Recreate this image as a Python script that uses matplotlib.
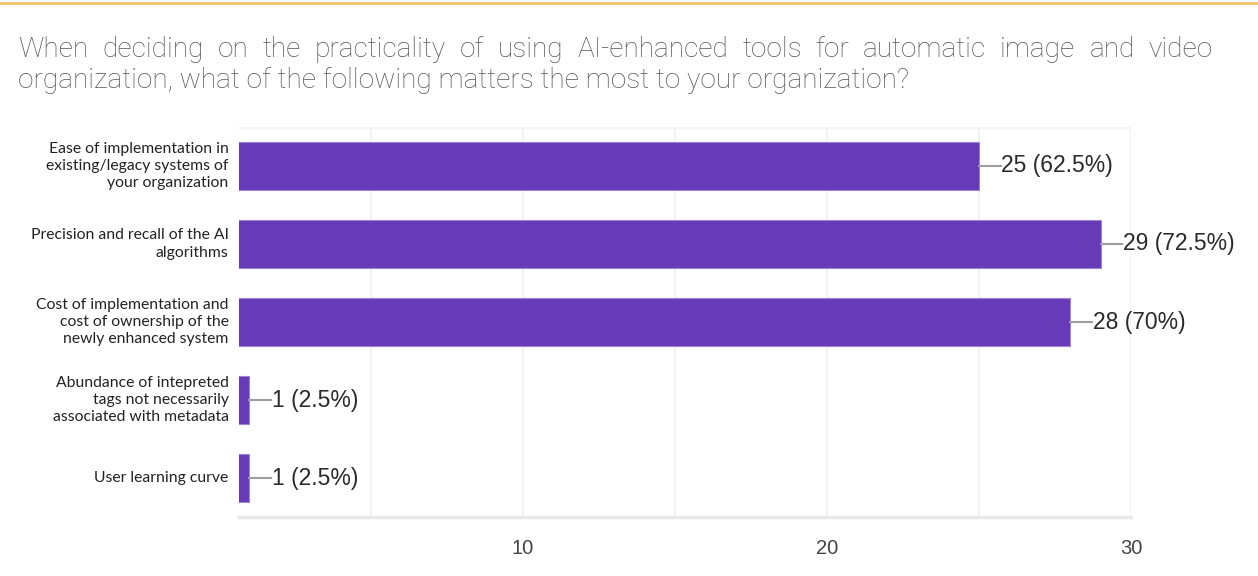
import matplotlib
matplotlib.use("Agg")
import matplotlib.pyplot as plt
from matplotlib.lines import Line2D

categories = [
    "Ease of implementation in\nexisting/legacy systems of\nyour organization",
    "Precision and recall of the AI\nalgorithms",
    "Cost of implementation and\ncost of ownership of the\nnewly enhanced system",
    "Abundance of intepreted\ntags not necessarily\nassociated with metadata",
    "User learning curve",
]
counts = [25, 29, 28, 1, 1]
percents = ["62.5%", "72.5%", "70%", "2.5%", "2.5%"]
title_lines = [
    "When deciding on the practicality of using AI-enhanced tools for automatic image and video",
    "organization, what of the following matters the most to your organization?",
]

W, H = 1258, 576
fig = plt.figure(figsize=(W / 100, H / 100), dpi=100)
ax = fig.add_axes([239 / W, 1 - 517 / H, (1131 - 239) / W, (517 - 127) / H])

bar_color = "#673ab7"
ypos = list(range(len(counts)))
ax.barh(ypos, counts, height=0.615, color=bar_color, edgecolor="#9c84d4",
        linewidth=0.8, zorder=3)
ax.set_ylim(len(counts) - 0.5, -0.5)
ax.set_xlim(0.66, 30)

# light vertical grid every 5, labels only on 10/20/30
for g in [5, 10, 15, 20, 25, 30]:
    ax.axvline(g, color="#f0f0f0", lw=1.2, zorder=1)
ax.set_xticks([10, 20, 30])
ax.set_xticklabels(["10", "20", "30"], fontsize=14.5, color="#444444",
                   family="Liberation Sans")
ax.tick_params(axis="x", length=0, pad=16)
ax.set_yticks([])
for side in ["left", "right", "top"]:
    ax.spines[side].set_visible(False)
ax.spines["bottom"].set_color("#e8e8e8")
ax.spines["bottom"].set_linewidth(2.5)
ax.axhline(-0.5, color="#f4f4f4", lw=2.5, zorder=1)

# category labels to the left of the bars
for y, lab in zip(ypos, categories):
    ax.text(-0.0115, y, lab, transform=ax.get_yaxis_transform(), ha="right",
            va="center", fontsize=11.3, color="#222222", family="Lato",
            linespacing=1.3)

# value labels with a short leader line
for y, c, p in zip(ypos, counts, percents):
    ax.add_line(Line2D([c, c + 0.72], [y, y], color="#9e9e9e", lw=1.5, zorder=4))
    ax.text(c + 0.74, y, f"{c} ({p})", ha="left", va="center", fontsize=16.5,
            color="#2a2a2a", family="Liberation Sans", zorder=5)

# gold rule along the top edge
fig.add_artist(Line2D([0, 1], [1 - 3 / H, 1 - 3 / H], color="#f3c36b", lw=2,
                      transform=fig.transFigure))

# title: first line justified between the margins, second left aligned
fig.canvas.draw()
renderer = fig.canvas.get_renderer()
title_kw = dict(fontsize=20.2, color="#555555", family="Roboto", weight="light",
                va="baseline")
left_px, right_px = 18, 1213
words = title_lines[0].split(" ")
texts = [fig.text(0, 0, w, **title_kw) for w in words]
widths = [t.get_window_extent(renderer).width for t in texts]
gap = (right_px - left_px - sum(widths)) / (len(words) - 1)
x = left_px
for t, w in zip(texts, widths):
    t.set_position((x / W, 1 - 57 / H))
    x += w + gap
fig.text(left_px / W, 1 - 88 / H, title_lines[1], **title_kw)

fig.savefig("out.png", dpi=100, facecolor="white")
